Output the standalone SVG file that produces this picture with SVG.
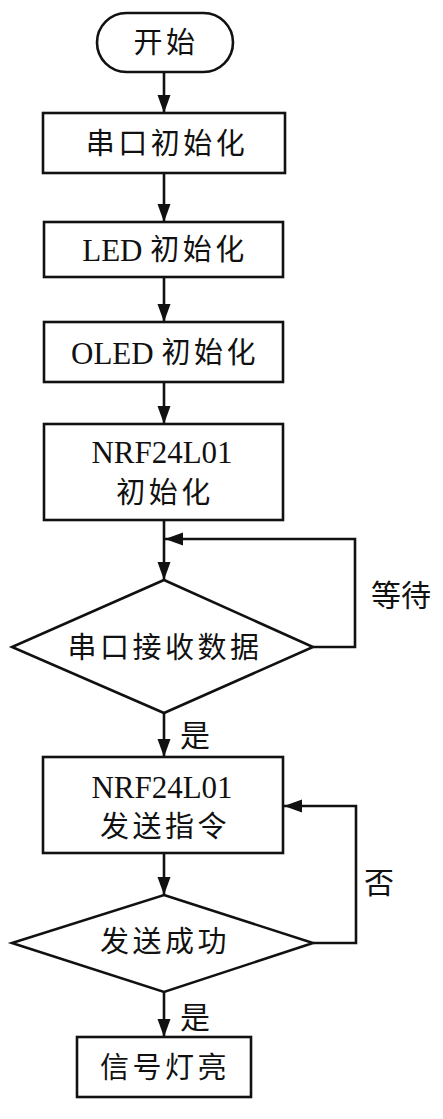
<svg xmlns="http://www.w3.org/2000/svg" width="443" height="1119" viewBox="0 0 443 1119">
<style>
.s{fill:#fff;stroke:#111;stroke-width:2.6}
.c{fill:none;stroke:#111;stroke-width:2.6}
.t{font-family:"Liberation Serif","Noto Sans CJK SC",serif;font-size:29px;fill:#111;text-anchor:middle;dominant-baseline:central;letter-spacing:3.5px}
.e{font-size:31px;letter-spacing:0}
.l{font-family:"Liberation Serif","Noto Sans CJK SC",serif;font-size:30px;fill:#111;dominant-baseline:central}
</style>
<defs>
<marker id="ah" markerUnits="userSpaceOnUse" markerWidth="20" markerHeight="14" refX="18" refY="6.5" orient="auto">
<path d="M0,0 L18,6.5 L0,13 Z" fill="#111"/>
</marker>
</defs>
<g id="connectors">
<line class="c" x1="164" y1="72" x2="164" y2="113" marker-end="url(#ah)"/>
<line class="c" x1="164" y1="173" x2="164" y2="222" marker-end="url(#ah)"/>
<line class="c" x1="164" y1="277" x2="164" y2="322" marker-end="url(#ah)"/>
<line class="c" x1="164" y1="382" x2="164" y2="424" marker-end="url(#ah)"/>
<line class="c" x1="164" y1="520" x2="164" y2="580" marker-end="url(#ah)"/>
<polyline class="c" points="313,647 355,647 355,539 165,539" marker-end="url(#ah)"/>
<line class="c" x1="164" y1="713" x2="164" y2="757" marker-end="url(#ah)"/>
<line class="c" x1="164" y1="853" x2="164" y2="895" marker-end="url(#ah)"/>
<polyline class="c" points="313,943 356,943 356,806 284,806" marker-end="url(#ah)"/>
<line class="c" x1="164" y1="992" x2="164" y2="1037" marker-end="url(#ah)"/>
<text class="l" x="371" y="595">等待</text>
<text class="l" x="180" y="735">是</text>
<text class="l" x="364" y="882">否</text>
<text class="l" x="180" y="1017">是</text>
</g>
<g id="start">
<rect class="s" x="97" y="13" width="136" height="59" rx="29.5"/>
<text class="t" x="166" y="43">开始</text>
</g>
<g id="uart-init">
<rect class="s" x="43" y="113" width="242" height="60"/>
<text class="t" x="167" y="144">串口初始化</text>
</g>
<g id="led-init">
<rect class="s" x="44" y="222" width="239" height="55"/>
<text class="t" x="165" y="250"><tspan class="e">LED </tspan>初始化</text>
</g>
<g id="oled-init">
<rect class="s" x="44" y="322" width="239" height="60"/>
<text class="t" x="165" y="353"><tspan class="e">OLED </tspan>初始化</text>
</g>
<g id="nrf-init">
<rect class="s" x="44" y="424" width="239" height="96"/>
<text class="t e" x="162" y="452">NRF24L01</text>
<text class="t" x="165" y="493">初始化</text>
</g>
<g id="uart-recv">
<polygon class="s" points="164,580 313,647 164,713 12,647"/>
<text class="t" x="165" y="648">串口接收数据</text>
</g>
<g id="nrf-send">
<rect class="s" x="43" y="757" width="240" height="96"/>
<text class="t e" x="162" y="787">NRF24L01</text>
<text class="t" x="165" y="827">发送指令</text>
</g>
<g id="send-ok">
<polygon class="s" points="164,895 313,943 164,992 12,943"/>
<text class="t" x="165" y="942">发送成功</text>
</g>
<g id="led-on">
<rect class="s" x="77" y="1037" width="174" height="60"/>
<text class="t" x="165" y="1068">信号灯亮</text>
</g>
</svg>
